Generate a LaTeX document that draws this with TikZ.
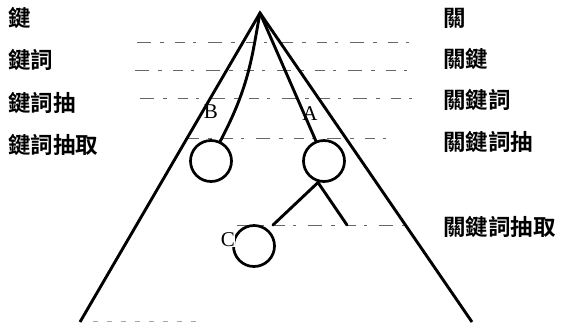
\documentclass[tikz,border=0pt]{standalone}
\usepackage{fontspec}
\setmainfont{Liberation Serif}
\newfontfamily\cjk{Noto Sans CJK TC Bold}
\begin{document}
\begin{tikzpicture}[x=1pt,y=-1pt,
  treeline/.style={line width=2.9pt,line cap=round},
  levelline/.style={line width=0.8pt,black!60,dash pattern=on 14pt off 9pt on 4pt off 11pt on 10pt off 8pt on 3pt off 12pt},
  faintline/.style={line width=0.7pt,black!35,dash pattern=on 5pt off 9pt},
  ring/.style={circle,draw,line width=2.7pt,minimum size=41pt,inner sep=0pt},
  lvl/.style={anchor=west,inner sep=0pt,font=\cjk\fontsize{22.5}{22.5}\selectfont},
  letter/.style={inner sep=0pt,font=\fontsize{21}{21}\selectfont}]
\useasboundingbox (0,0) rectangle (562,322);
% level lines
\draw[levelline] (137,42) -- (413,42);
\draw[levelline] (135,70) -- (411,70);
\draw[levelline] (140,98) -- (413,98);
\draw[levelline] (185,138) -- (395,138);
\draw[levelline] (237,225) -- (415,225);
\draw[faintline] (93,321) -- (205,321);
% texts
\node[lvl] (l1) at (8,18) {鍵};
\node[lvl] (l2) at (8,60) {鍵詞};
\node[lvl] (l3) at (8,103) {鍵詞抽};
\node[lvl] (l4) at (8,145) {鍵詞抽取};
\node[lvl] (r1) at (443,18) {關};
\node[lvl] (r2) at (443,59) {關鍵};
\node[lvl] (r3) at (443,100) {關鍵詞};
\node[lvl] (r4) at (443,142) {關鍵詞抽};
\node[lvl] (r5) at (443,227) {關鍵詞抽取};
% tree
\coordinate (apex) at (260,13);
\coordinate (bl) at (80,322);
\coordinate (br) at (472,322);
\draw[treeline,line cap=butt,line join=miter] (bl) -- (apex) -- (br);
\node[ring] (B) at (211,161) {};
\node[ring] (A) at (324,161) {};
\node[ring] (C) at (254,246) {};
\node[letter] (lb) at (211,112) {B};
\node[letter] (la) at (310,114) {A};
\node[letter,fill=white,inner sep=0.3pt] (lc) at (228,240) {C};
\draw[treeline] (apex) .. controls (252,55) and (250,85) .. (B.65);
\draw[treeline] (apex) -- (A.112);
\coordinate (ab) at (318,182.5);
\coordinate (e1) at (273,225);
\coordinate (e2) at (347,225);
\draw[treeline] (e1) -- (ab) -- (e2);
\end{tikzpicture}
\end{document}
